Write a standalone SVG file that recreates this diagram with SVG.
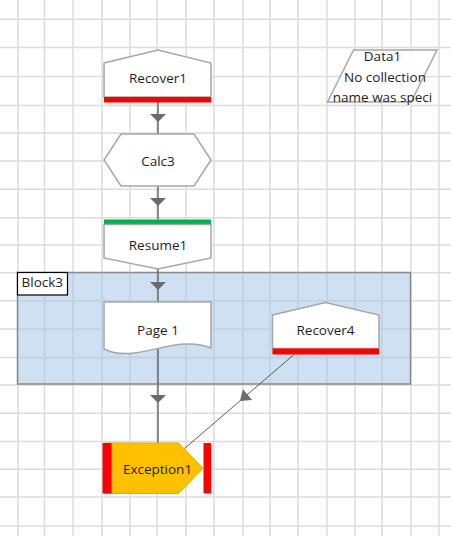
<svg xmlns="http://www.w3.org/2000/svg" width="451" height="536" viewBox="0 0 451 536">
<style>
.grid{stroke:#dcdcdc;stroke-width:1.5;fill:none}
.shape{fill:#ffffff;stroke:#a6a6a6;stroke-width:1.5}
.lbl{font-family:"Open Sans","Noto Sans",sans-serif;font-size:13.5px;fill:#1e1e1e;text-anchor:middle}
.conn{stroke:#6b6b6b;stroke-width:1.5;fill:none}
.thin{stroke:#5a5a5a;stroke-width:1;fill:none}
.head{fill:#6b6b6b}
.red{fill:#ff0000}
</style>
<rect width="451" height="536" fill="#ffffff"/>
<g id="grid">
<path class="grid" d="M18,0V536M44.5,0V536M73,0V536M102,0V536M130,0V536M157,0V536M186,0V536M214,0V536M243,0V536M270,0V536M298,0V536M327,0V536M355,0V536M382,0V536M411,0V536M439,0V536"/>
<path class="grid" d="M0,19.3H451M0,47.5H451M0,76.5H451M0,105.5H451M0,133H451M0,161H451M0,189.3H451M0,217.7H451M0,245H451M0,272.7H451M0,300.7H451M0,329H451M0,357.5H451M0,385H451M0,413.3H451M0,441.5H451M0,469.3H451M0,497H451M0,526H451"/>
</g>
<g id="Block3">
<rect x="17.5" y="272.5" width="393" height="111.5" fill="#9fc1e7" fill-opacity="0.5" stroke="#8a8a8a" stroke-width="1.5"/>
<rect x="17.5" y="272.5" width="50" height="22.5" fill="#ffffff" stroke="#000000" stroke-width="1.2"/>
<text x="21.5" y="287" class="lbl" style="text-anchor:start">Block3</text>
</g>
<g id="connectors">
<path class="conn" d="M158,102V134M158,186V219.5M158,269V302M158,345V443"/>
<polygon class="head" points="150,114 166,114 158,122"/>
<polygon class="head" points="150,198 166,198 158,206"/>
<polygon class="head" points="150,282 166,282 158,290"/>
<polygon class="head" points="150,395 166,395 158,403"/>
<path class="thin" d="M294,354.5L184.5,448.5"/>
<polygon class="head" points="239.9,401.1 252.1,399.9 242.9,389.3"/>
</g>
<g id="Recover1">
<polygon class="shape" points="104,63 158,50 211,63 211,97 104,97"/>
<rect class="red" x="104" y="97" width="107" height="5.5"/>
<text x="158" y="82.5" class="lbl">Recover1</text>
</g>
<g id="Calc3">
<polygon class="shape" points="104,160 121,134 194,134 211,160 194,186 121,186"/>
<text x="158" y="166" class="lbl">Calc3</text>
</g>
<g id="Resume1">
<rect x="104" y="219.5" width="107" height="5" fill="#00b050"/>
<polygon class="shape" points="104,224.5 211,224.5 211,258 158,269 104,258"/>
<text x="158" y="250" class="lbl">Resume1</text>
</g>
<g id="Page1">
<path class="shape" d="M104,302H211V348C175,333 136,365 104,349Z"/>
<text x="158" y="335" class="lbl">Page 1</text>
</g>
<g id="Recover4">
<polygon class="shape" points="272.5,315 325.5,302.5 379,315 379,348.5 272.5,348.5"/>
<rect class="red" x="272.5" y="348.5" width="106.5" height="6"/>
<text x="325.5" y="335" class="lbl">Recover4</text>
</g>
<g id="Exception1">
<polygon points="104,443 178.5,443 203,468.3 178.5,493.5 104,493.5" fill="#ffc000" stroke="#e6ac00" stroke-width="1"/>
<rect class="red" x="102.5" y="443" width="9" height="50.5"/>
<rect class="red" x="203.5" y="443" width="7.5" height="50.5"/>
<text x="157.5" y="474" class="lbl">Exception1</text>
</g>
<g id="Data1">
<polygon class="shape" points="353.5,50 437,50 411,102 327.5,102"/>
<text x="382.5" y="60.5" class="lbl">Data1</text>
<text x="385" y="81.5" class="lbl">No collection</text>
<text x="382.5" y="101.5" class="lbl">name was speci</text>
</g>
</svg>
